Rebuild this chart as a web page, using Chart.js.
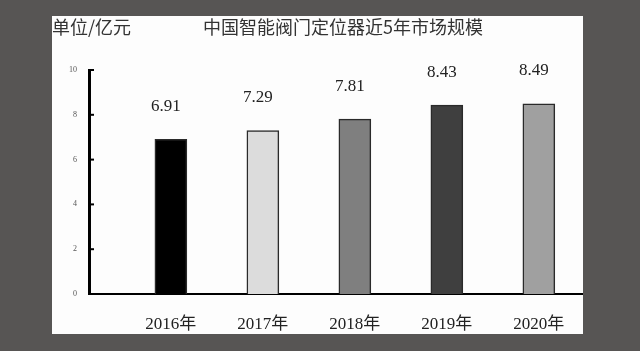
<!DOCTYPE html>
<html>
<head>
<meta charset="utf-8">
<script src="https://cdn.jsdelivr.net/npm/chart.js@4"></script>
<style>
  html, body { margin: 0; padding: 0; background: #575554; }
  #box { position: absolute; left: 52px; top: 16px; width: 531px; height: 318px; background: #fdfdfd; }
  canvas { display: block; }
</style>
</head>
<body>
<div id="box"><canvas id="barChart" width="531" height="318"></canvas></div>
<script>
// data
const years = ['2016年', '2017年', '2018年', '2019年', '2020年'];
const values = [6.91, 7.29, 7.81, 8.43, 8.49];
const barColors = ['#000000', '#dcdcdc', '#7f7f7f', '#3f3f3f', '#a0a0a0'];
const yTicks = [0, 2, 4, 6, 8, 10];
const chartTitle = '中国智能阀门定位器近5年市场规模';
const unitLabel = '单位/亿元';

const serif = "'Liberation Serif', 'Noto Sans CJK SC', serif";
const cjk = "'Noto Sans CJK SC', sans-serif";

// small tick marks inside the axis, value labels and the two header texts
const decor = {
    id: 'decor',
    afterDraw(chart) {
        const ctx = chart.ctx;
        const y = chart.scales.y;
        const ax = chart.chartArea.left;
        ctx.save();
        ctx.strokeStyle = '#000';
        ctx.lineWidth = 2;
        yTicks.forEach(t => {
            const py = y.getPixelForValue(t);
            ctx.beginPath();
            ctx.moveTo(ax, py);
            ctx.lineTo(ax + 5, py);
            ctx.stroke();
        });

        ctx.fillStyle = '#222';
        ctx.font = '17px ' + serif;
        ctx.textAlign = 'center';
        ctx.textBaseline = 'middle';
        chart.getDatasetMeta(0).data.forEach((bar, i) => {
            ctx.fillText(values[i].toFixed(2), bar.x - 5, bar.y - 33);
        });

        ctx.fillStyle = '#333';
        ctx.font = '18px ' + cjk;
        ctx.textAlign = 'left';
        ctx.fillText(unitLabel, 0, 11);
        ctx.fillText(chartTitle, 151, 11);
        ctx.restore();
    }
};

const ctx = document.getElementById('barChart').getContext('2d');
new Chart(ctx, {
    type: 'bar',
    data: {
        datasets: [{
            data: values.map((v, i) => ({ x: i, y: v })),
            backgroundColor: barColors,
            borderColor: '#2a2a2a',
            borderWidth: 1.5,
            borderSkipped: 'bottom',
            barThickness: 32,
        }],
    },
    options: {
        responsive: false,
        animation: false,
        layout: { padding: { top: 54, left: 0, right: 0, bottom: 0 } },
        plugins: {
            legend: { display: false },
            tooltip: { enabled: false },
        },
        scales: {
            x: {
                type: 'linear',
                offset: false,
                min: -0.89,
                max: 4.48,
                afterBuildTicks: s => { s.ticks = years.map((_, i) => ({ value: i })); },
                afterFit: s => { s.height = 40; },
                grid: { display: false },
                border: { display: true, color: '#000', width: 2 },
                ticks: {
                    callback: v => years[v],
                    color: '#222',
                    font: { family: serif, size: 17 },
                    padding: 12,
                    maxRotation: 0,
                },
            },
            y: {
                min: 0,
                max: 10,
                afterBuildTicks: s => { s.ticks = yTicks.map(v => ({ value: v })); },
                afterFit: s => { s.width = 37; },
                grid: { display: false },
                border: { display: true, color: '#000', width: 3 },
                ticks: {
                    color: '#555',
                    font: { family: serif, size: 8 },
                    padding: 4,
                },
            },
        },
    },
    plugins: [decor],
});
</script>
</body>
</html>
